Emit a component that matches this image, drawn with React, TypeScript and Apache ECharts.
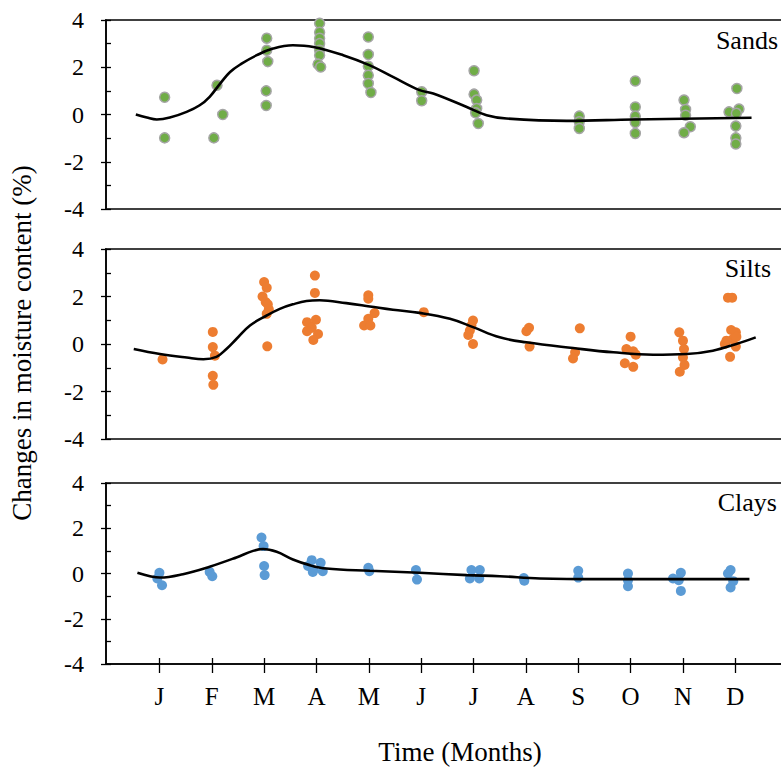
import React, { useEffect, useRef } from "react";
import * as echarts from "echarts";

// Month tick positions (J = 1 ... D = 12) and their labels
const monthPositions = [1, 2, 3, 4, 5, 6, 7, 8, 9, 10, 11, 12];
const monthLabels = ["J", "F", "M", "A", "M", "J", "J", "A", "S", "O", "N", "D"];

const panelNames = ["Sands", "Silts", "Clays"];
const xTitle = "Time (Months)";
const yTitle = "Changes in moisture content (%)";

// Sands: observed changes [month position, %]
const sandsPoints: number[][] = [
  [1.1, 0.73], [1.1, -0.99],
  [2.1, 1.24], [2.04, -0.99], [2.21, 0.0],
  [3.05, 3.23], [3.05, 2.72], [3.07, 2.24], [3.04, 1.0], [3.04, 0.38],
  [4.06, 3.86], [4.06, 3.48], [4.06, 3.23], [4.06, 3.0], [4.06, 2.72], [4.06, 2.51], [4.03, 2.13], [4.08, 2.01],
  [4.99, 3.28], [4.99, 2.54], [4.99, 2.04], [4.99, 1.66], [4.99, 1.31], [5.04, 0.93],
  [6.01, 0.96], [6.01, 0.58],
  [7.01, 1.85], [7.01, 0.86], [7.06, 0.61], [7.06, 0.25], [7.04, 0.07], [7.09, -0.38],
  [9.02, -0.07], [9.02, -0.31], [9.02, -0.59],
  [10.09, 1.42], [10.09, 0.32], [10.09, -0.07], [10.09, -0.34], [10.09, -0.8],
  [11.02, 0.61], [11.05, 0.21], [11.05, -0.03], [11.14, -0.52], [11.02, -0.77],
  [12.03, 1.1], [11.88, 0.11], [12.07, 0.23], [12.02, 0.05], [12.01, -0.49], [12.01, -0.99], [12.01, -1.25],
];
// Sands: fitted curve
const sandsCurve: number[][] = [
  [0.55, 0.0], [0.76, -0.13], [0.95, -0.21], [1.2, -0.13], [1.52, 0.11], [1.77, 0.39], [1.96, 0.75],
  [2.16, 1.31], [2.35, 1.8], [2.57, 2.15], [2.86, 2.51], [3.17, 2.79], [3.55, 2.93], [3.94, 2.86],
  [4.51, 2.51], [5.02, 2.08], [5.46, 1.59], [5.97, 1.03], [6.23, 0.89], [6.87, 0.32], [7.25, -0.03],
  [7.63, -0.17], [8.78, -0.27], [10.05, -0.21], [11.32, -0.17], [12.31, -0.14],
];

// Silts
const siltsPoints: number[][] = [
  [1.06, -0.65],
  [2.02, 0.51], [2.02, -0.13], [2.06, -0.49], [2.02, -1.34], [2.03, -1.72],
  [3.0, 2.61], [3.05, 2.37], [2.97, 2.0], [3.03, 1.77], [3.07, 1.67], [3.09, 1.46], [3.05, 1.27], [3.06, -0.1],
  [3.97, 2.88], [3.97, 2.15], [3.99, 1.02], [3.82, 0.92], [3.91, 0.68], [3.82, 0.54], [4.03, 0.42], [3.94, 0.17],
  [4.99, 2.05], [4.99, 1.91], [5.11, 1.3], [4.99, 1.06], [4.91, 0.78], [5.03, 0.78],
  [6.05, 1.34],
  [6.99, 0.99], [6.96, 0.78], [6.93, 0.57], [6.9, 0.38], [6.99, 0.0],
  [8.06, 0.68], [8.01, 0.54], [8.07, -0.11],
  [9.03, 0.66], [8.94, -0.35], [8.9, -0.61],
  [10.0, 0.31], [9.92, -0.21], [10.05, -0.31], [10.1, -0.45], [9.89, -0.81], [10.05, -0.96],
  [10.93, 0.49], [11.0, 0.14], [11.02, -0.21], [11.0, -0.57], [11.03, -0.88], [10.94, -1.17],
  [11.86, 1.95], [11.94, 1.95], [11.92, 0.59], [12.01, 0.49], [11.95, 0.2], [12.02, 0.3], [11.83, 0.14], [11.8, 0.0], [12.01, -0.11], [11.9, -0.54],
];
const siltsCurve: number[][] = [
  [0.51, -0.21], [1.01, -0.42], [1.52, -0.57], [1.84, -0.64], [2.09, -0.54], [2.28, -0.21], [2.47, 0.21],
  [2.73, 0.78], [3.05, 1.2], [3.3, 1.48], [3.55, 1.67], [3.81, 1.81], [4.06, 1.84], [4.57, 1.72],
  [5.02, 1.58], [5.46, 1.44], [5.97, 1.31], [6.55, 1.06], [6.99, 0.71], [7.5, 0.28], [8.01, 0.07],
  [8.9, -0.17], [9.67, -0.35], [10.43, -0.45], [11.07, -0.42], [11.57, -0.28], [12.02, 0.0], [12.39, 0.28],
];

// Clays
const claysPoints: number[][] = [
  [1.0, 0.03], [0.96, -0.22], [1.05, -0.52],
  [1.96, 0.07], [2.01, -0.12],
  [2.95, 1.59], [2.99, 1.21], [3.0, 0.33], [3.01, -0.07],
  [3.91, 0.59], [4.08, 0.47], [3.84, 0.33], [3.94, 0.15], [4.12, 0.1], [3.93, 0.07],
  [4.99, 0.25], [5.01, 0.1],
  [5.9, 0.15], [5.92, -0.27],
  [6.96, 0.15], [7.12, 0.15], [6.93, -0.22], [7.11, -0.22],
  [7.96, -0.2], [7.97, -0.32],
  [9.0, 0.12], [9.0, -0.18],
  [9.95, 0.0], [9.95, -0.3], [9.95, -0.56],
  [10.96, 0.03], [10.81, -0.22], [10.92, -0.3], [10.96, -0.77],
  [11.91, 0.15], [11.86, 0.0], [11.96, -0.34], [11.91, -0.62],
];
const claysCurve: number[][] = [
  [0.58, 0.03], [0.82, -0.12], [1.01, -0.18], [1.45, -0.03], [1.96, 0.3], [2.47, 0.71], [2.79, 1.0],
  [2.98, 1.08], [3.24, 0.96], [3.55, 0.62], [3.87, 0.37], [4.19, 0.22], [5.02, 0.12], [5.97, 0.03],
  [6.87, -0.07], [7.5, -0.12], [8.27, -0.22], [9.41, -0.25], [12.27, -0.25],
];

const X_MIN = -0.02;
const X_MAX = 12.93;
const FONT = "Liberation Serif";

export default function App() {
  const ref = useRef<HTMLDivElement>(null);

  useEffect(() => {
    if (!ref.current) return;
    const chart = echarts.init(ref.current, null, { renderer: "svg" });

    const gridDefs = [
      { top: 20, height: 189 },
      { top: 249, height: 190 },
      { top: 483, height: 181 },
    ];
    const grids = gridDefs.map((g) => ({
      left: 106,
      right: -3,
      top: g.top,
      height: g.height,
      show: true,
      borderColor: "#404040",
      borderWidth: 2,
      backgroundColor: "transparent",
      outerBoundsMode: "none",
    }));

    const yAxes: any[] = [];
    [0, 1, 2].forEach((i) => {
      yAxes.push({
        type: "value",
        gridIndex: i,
        position: "left",
        min: -4,
        max: 4,
        interval: 2,
        axisLine: { show: true, onZero: false, lineStyle: { color: "#000", width: 1.6 } },
        axisTick: { show: true, length: 5, lineStyle: { color: "#000", width: 1.3 } },
        axisLabel: { fontFamily: FONT, fontSize: 24, color: "#000", margin: 22 },
        splitLine: { show: false },
      });
    });
    [0, 1, 2].forEach((i) => {
      yAxes.push({
        type: "value",
        gridIndex: i,
        position: "left",
        offset: 0,
        min: -4,
        max: 4,
        interval: 2,
        axisLine: { show: false, onZero: false },
        axisTick: { show: true, inside: true, length: 5, lineStyle: { color: "#000", width: 1.3 } },
        minorTick: { show: true, splitNumber: 2, length: 5, lineStyle: { color: "#000", width: 1.3 } },
        axisLabel: { show: false },
        splitLine: { show: false },
        minorSplitLine: { show: false },
      });
    });

    const xAxes: any[] = [
      {
        type: "value", gridIndex: 0, position: "bottom", min: X_MIN, max: X_MAX,
        axisLine: { show: false, onZero: false }, axisTick: { show: false },
        axisLabel: { show: false }, splitLine: { show: false },
      },
      {
        type: "value", gridIndex: 1, position: "bottom", min: X_MIN, max: X_MAX,
        axisLine: { show: false, onZero: false }, axisTick: { show: false },
        axisLabel: { show: false }, splitLine: { show: false },
      },
      {
        type: "value", gridIndex: 2, position: "bottom", min: X_MIN, max: X_MAX,
        axisLine: { show: true, onZero: false, lineStyle: { color: "#000", width: 1.6 } },
        axisTick: { show: true, length: 9, customValues: monthPositions, lineStyle: { color: "#000", width: 1.3 } },
        axisLabel: {
          customValues: monthPositions,
          formatter: (v: number) => monthLabels[Math.round(v) - 1] ?? "",
          fontFamily: FONT, fontSize: 25, color: "#000", margin: 20,
        },
        splitLine: { show: false },
      },
      {
        type: "value", gridIndex: 2, position: "bottom", offset: 0, min: X_MIN, max: X_MAX,
        axisLine: { show: false, onZero: false },
        axisTick: { show: true, inside: true, length: 6, customValues: monthPositions, lineStyle: { color: "#000", width: 1.3 } },
        axisLabel: { show: false }, splitLine: { show: false },
      },
    ];

    const scatterStyles = [
      { color: "#70AD47", borderColor: "#A5A5A5", borderWidth: 1.5 },
      { color: "#ED7D31" },
      { color: "#5B9BD5" },
    ];
    const pointSets = [sandsPoints, siltsPoints, claysPoints];
    const curveSets = [sandsCurve, siltsCurve, claysCurve];

    const series: any[] = [];
    [0, 1, 2].forEach((i) => {
      series.push({
        type: "scatter",
        name: panelNames[i],
        xAxisIndex: i,
        yAxisIndex: i,
        data: pointSets[i],
        symbolSize: 10,
        itemStyle: { ...scatterStyles[i], opacity: 1 },
        z: 2,
      });
      series.push({
        type: "line",
        name: panelNames[i] + " trend",
        xAxisIndex: i,
        yAxisIndex: i,
        data: curveSets[i],
        smooth: 0.4,
        showSymbol: false,
        symbol: "none",
        lineStyle: { color: "#000", width: 2.6 },
        z: 3,
      });
    });

    const labelPos = [
      { x: 778, y: 40 },
      { x: 771, y: 268 },
      { x: 777, y: 502 },
    ];

    const textStyle = (text: string, align: string, size: number) => ({
      text,
      fontFamily: FONT,
      fontSize: size,
      fill: "#000",
      textAlign: align,
      textVerticalAlign: "middle",
    });

    const graphic: any[] = panelNames.map((name, i) => ({
      type: "text",
      x: labelPos[i].x,
      y: labelPos[i].y,
      style: textStyle(name, "right", 26),
    }));
    graphic.push({
      type: "text",
      x: 460,
      y: 752,
      style: textStyle(xTitle, "center", 27),
    });
    graphic.push({
      type: "text",
      x: 22,
      y: 343,
      rotation: Math.PI / 2,
      style: textStyle(yTitle, "center", 27),
    });

    chart.setOption({
      animation: false,
      backgroundColor: "#fff",
      grid: grids,
      xAxis: xAxes,
      yAxis: yAxes,
      series,
      graphic,
    });

    return () => chart.dispose();
  }, []);

  return (
    <div
      ref={ref}
      style={{ position: "fixed", left: 0, top: 0, width: 781, height: 769 }}
    />
  );
}
